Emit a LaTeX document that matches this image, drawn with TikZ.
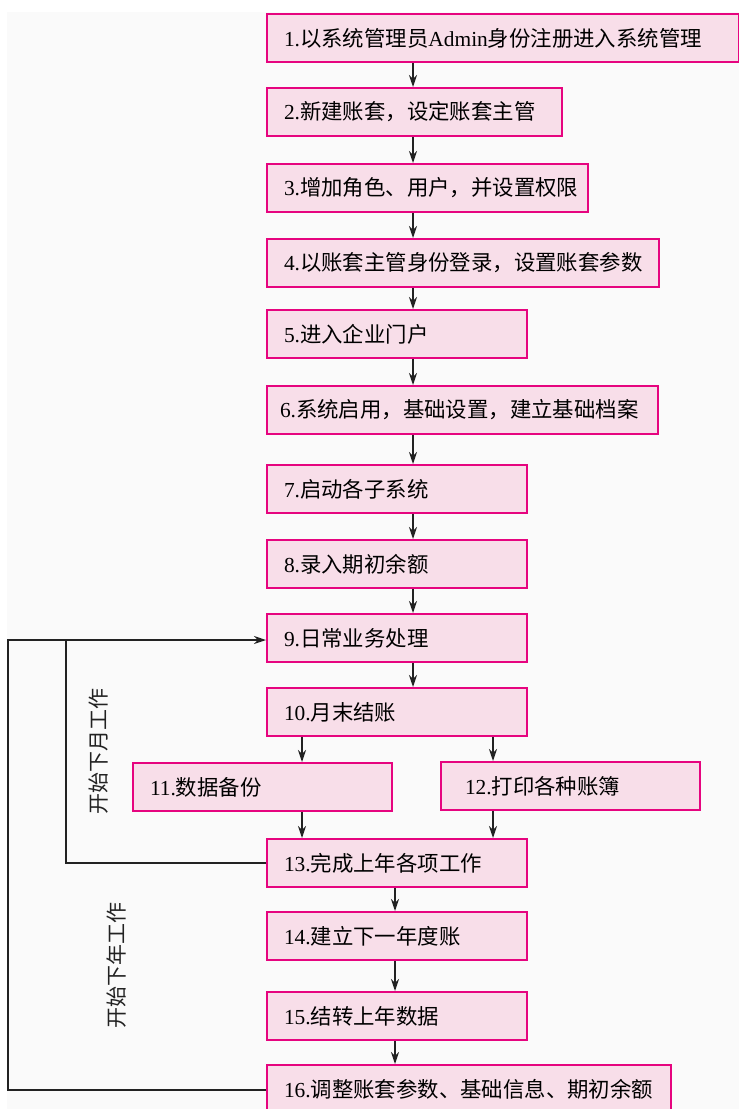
\documentclass[tikz,border=0pt]{standalone}
\usepackage{fontspec}
\setmainfont{Liberation Serif}
\newfontfamily\cjk{Noto Sans CJK SC}
\usetikzlibrary{arrows.meta}
\definecolor{boxfill}{HTML}{F8DEE9}
\definecolor{boxline}{HTML}{E6047F}
\definecolor{bgcol}{HTML}{FAFAFA}
\definecolor{linecol}{HTML}{222222}
\tikzset{
  stepbox/.style={draw=boxline, fill=boxfill, line width=2pt, minimum height=48pt,
    anchor=north west, align=left, inner xsep=17pt, inner ysep=0pt,
    font=\fontsize{21.4}{24}\selectfont},
  arr/.style={draw=linecol, line width=1.5pt, -{Stealth[length=12pt,width=8pt]}},
  plain/.style={draw=linecol, line width=1.5pt},
  sidelabel/.style={rotate=90, font=\fontsize{21}{24}\selectfont\cjk, text=linecol}
}
\begin{document}
\begin{tikzpicture}[x=1pt,y=-1pt]
\useasboundingbox (0,0) rectangle (739,1109);
\fill[white] (0,0) rectangle (739,1109);
\fill[bgcol] (7,12) rectangle (739,1109);
% boxes
\node[stepbox, text width=438pt] (b1) at (266,13) {1.{\cjk 以系统管理员}Admin{\cjk 身份注册进入系统管理}};
\node[stepbox, text width=261pt] (b2) at (266,87) {2.{\cjk 新建账套，设定账套主管}};
\node[stepbox, text width=287pt] (b3) at (266,163) {3.{\cjk 增加角色、用户，并设置权限}};
\node[stepbox, text width=358pt] (b4) at (266,238) {4.{\cjk 以账套主管身份登录，设置账套参数}};
\node[stepbox, text width=226pt] (b5) at (266,309) {5.{\cjk 进入企业门户}};
\node[stepbox, text width=357pt, inner xsep=13pt, text width=365pt] (b6) at (266,385) {6.{\cjk 系统启用，基础设置，建立基础档案}};
\node[stepbox, text width=226pt] (b7) at (266,464) {7.{\cjk 启动各子系统}};
\node[stepbox, text width=226pt] (b8) at (266,539) {8.{\cjk 录入期初余额}};
\node[stepbox, text width=226pt] (b9) at (266,613) {9.{\cjk 日常业务处理}};
\node[stepbox, text width=226pt] (b10) at (266,687) {10.{\cjk 月末结账}};
\node[stepbox, text width=225pt] (b11) at (132,762) {11.{\cjk 数据备份}};
\node[stepbox, text width=225pt, inner xsep=24pt, text width=211pt] (b12) at (440,761) {12.{\cjk 打印各种账簿}};
\node[stepbox, text width=226pt] (b13) at (266,838) {13.{\cjk 完成上年各项工作}};
\node[stepbox, text width=226pt] (b14) at (266,911) {14.{\cjk 建立下一年度账}};
\node[stepbox, text width=226pt] (b15) at (266,991) {15.{\cjk 结转上年数据}};
\node[stepbox, text width=370pt] (b16) at (266,1064) {16.{\cjk 调整账套参数、基础信息、期初余额}};
% guide coordinates
\coordinate (cx) at (413,0);
\coordinate (lx) at (395,0);
\coordinate (ax) at (302,0);
\coordinate (bx) at (493,0);
\coordinate (outer) at (8,640);
\coordinate (inner) at (66,640);
% main arrows
\draw[arr] (b1.south -| cx) -- (b2.north -| cx);
\draw[arr] (b2.south -| cx) -- (b3.north -| cx);
\draw[arr] (b3.south -| cx) -- (b4.north -| cx);
\draw[arr] (b4.south -| cx) -- (b5.north -| cx);
\draw[arr] (b5.south -| cx) -- (b6.north -| cx);
\draw[arr] (b6.south -| cx) -- (b7.north -| cx);
\draw[arr] (b7.south -| cx) -- (b8.north -| cx);
\draw[arr] (b8.south -| cx) -- (b9.north -| cx);
\draw[arr] (b9.south -| cx) -- (b10.north -| cx);
\draw[arr] (b10.south -| ax) -- (b11.north -| ax);
\draw[arr] (b10.south -| bx) -- (b12.north -| bx);
\draw[arr] (b11.south -| ax) -- (b13.north -| ax);
\draw[arr] (b12.south -| bx) -- (b13.north -| bx);
\draw[arr] (b13.south -| lx) -- (b14.north -| lx);
\draw[arr] (b14.south -| lx) -- (b15.north -| lx);
\draw[arr] (b15.south -| lx) -- (b16.north -| lx);
% loops
\draw[arr] (b16.west |- 0,1090) -| (outer) -- (b9.west |- outer);
\draw[plain] (b13.west) -| (inner);
% labels
\node[sidelabel] (l1) at (99,751) {开始下月工作};
\node[sidelabel] (l2) at (117,965) {开始下年工作};
\end{tikzpicture}
\end{document}
